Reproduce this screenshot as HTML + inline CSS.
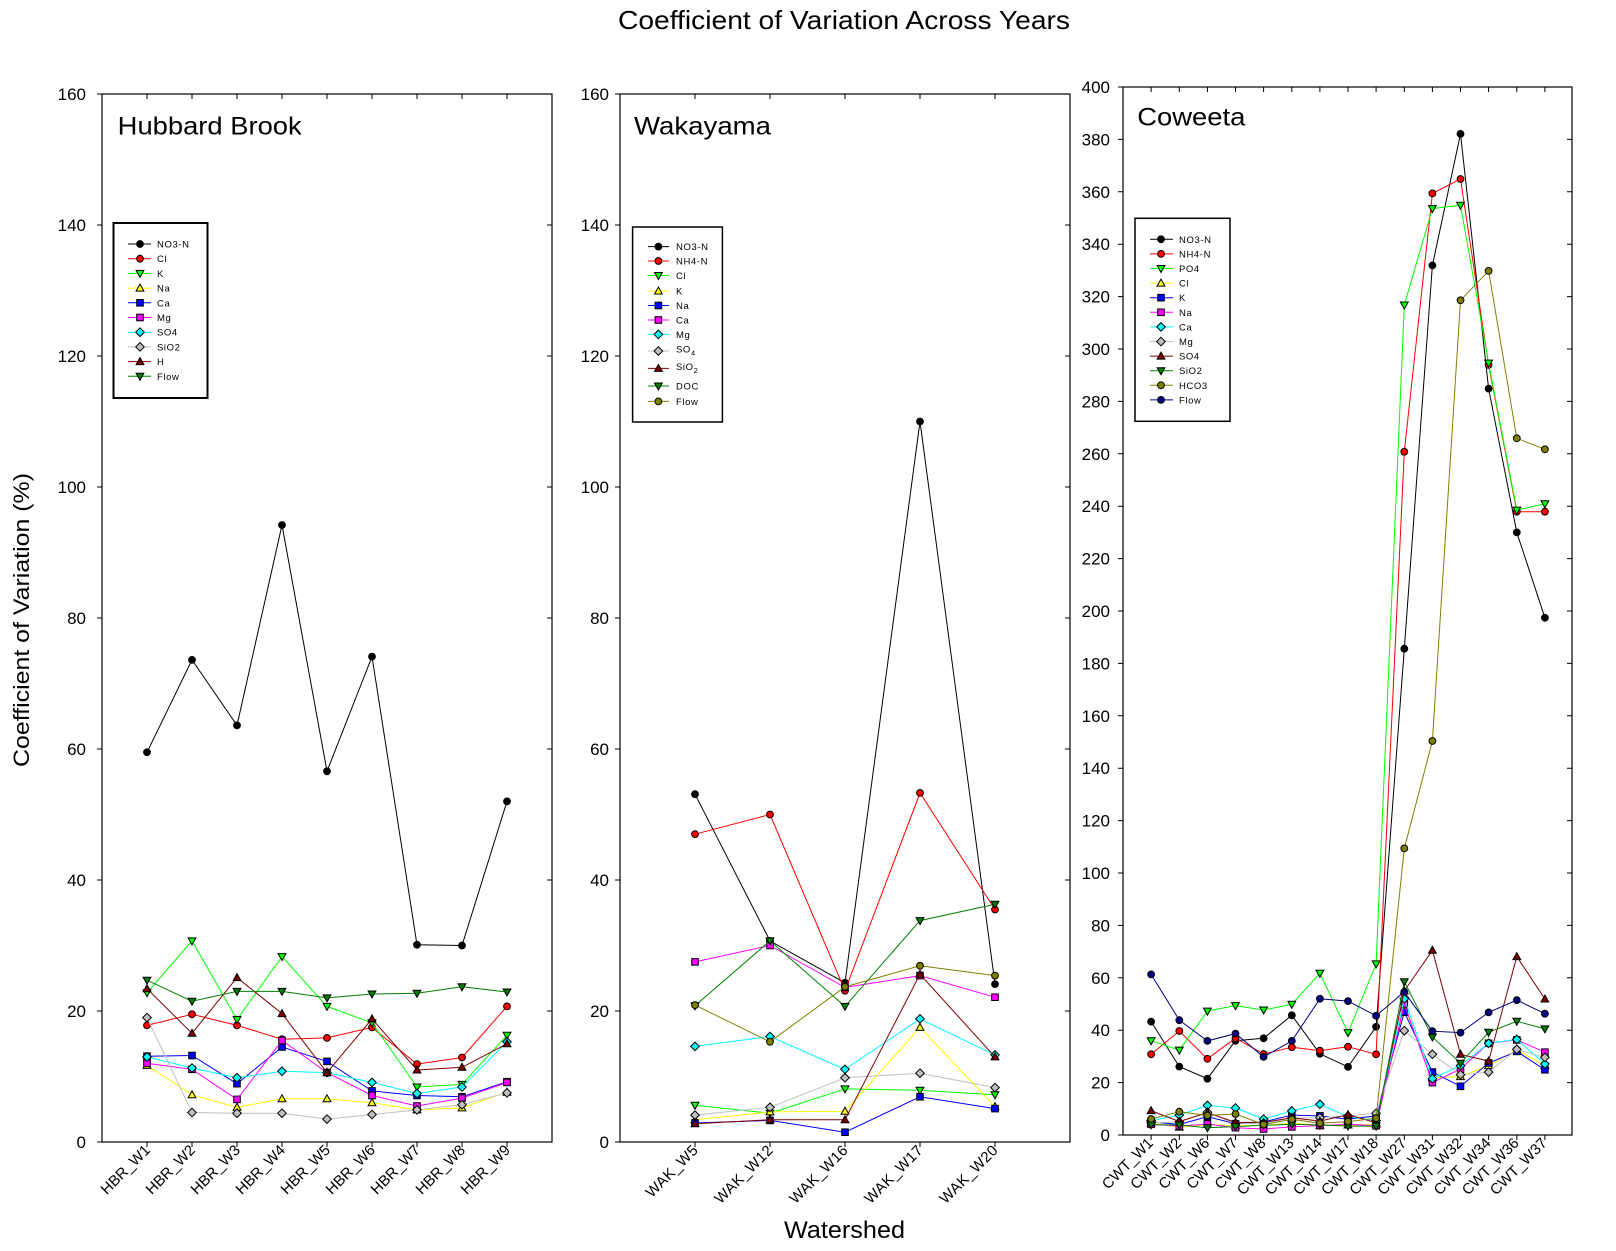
<!DOCTYPE html>
<html>
<head>
<meta charset="utf-8">
<style>
html,body{margin:0;padding:0;background:#fff;}
svg{display:block;}
text{font-family:"Liberation Sans",Arial,sans-serif;fill:#000;}
.tl{font-size:17px;}
.xl{font-size:15px;}
.lg{font-size:9.5px;letter-spacing:0.6px;}
</style>
</head>
<body>
<svg width="1616" height="1251" viewBox="0 0 1616 1251" xmlns="http://www.w3.org/2000/svg">
<defs>
<marker id="cK" markerUnits="userSpaceOnUse" markerWidth="12" markerHeight="12" viewBox="-6 -6 12 12" refX="0" refY="0" overflow="visible"><circle r="3.4" fill="#000" stroke="#000" stroke-width="1"/></marker>
<marker id="cR" markerUnits="userSpaceOnUse" markerWidth="12" markerHeight="12" viewBox="-6 -6 12 12" refX="0" refY="0" overflow="visible"><circle r="3.4" fill="#ff0000" stroke="#000" stroke-width="1"/></marker>
<marker id="cO" markerUnits="userSpaceOnUse" markerWidth="12" markerHeight="12" viewBox="-6 -6 12 12" refX="0" refY="0" overflow="visible"><circle r="3.4" fill="#808000" stroke="#000" stroke-width="1"/></marker>
<marker id="cN" markerUnits="userSpaceOnUse" markerWidth="12" markerHeight="12" viewBox="-6 -6 12 12" refX="0" refY="0" overflow="visible"><circle r="3.4" fill="#000080" stroke="#000" stroke-width="1"/></marker>
<marker id="dG" markerUnits="userSpaceOnUse" markerWidth="12" markerHeight="12" viewBox="-6 -6 12 12" refX="0" refY="0" overflow="visible"><polygon points="0,4 3.9,-3 -3.9,-3" fill="#00ff00" stroke="#000" stroke-width="1"/></marker>
<marker id="dD" markerUnits="userSpaceOnUse" markerWidth="12" markerHeight="12" viewBox="-6 -6 12 12" refX="0" refY="0" overflow="visible"><polygon points="0,4 3.9,-3 -3.9,-3" fill="#008000" stroke="#000" stroke-width="1"/></marker>
<marker id="uY" markerUnits="userSpaceOnUse" markerWidth="12" markerHeight="12" viewBox="-6 -6 12 12" refX="0" refY="0" overflow="visible"><polygon points="0,-4 3.9,3 -3.9,3" fill="#ffff00" stroke="#000" stroke-width="1"/></marker>
<marker id="uM" markerUnits="userSpaceOnUse" markerWidth="12" markerHeight="12" viewBox="-6 -6 12 12" refX="0" refY="0" overflow="visible"><polygon points="0,-4 3.9,3 -3.9,3" fill="#800000" stroke="#000" stroke-width="1"/></marker>
<marker id="sB" markerUnits="userSpaceOnUse" markerWidth="12" markerHeight="12" viewBox="-6 -6 12 12" refX="0" refY="0" overflow="visible"><rect x="-3.3" y="-3.3" width="6.6" height="6.6" fill="#0000ff" stroke="#000" stroke-width="1"/></marker>
<marker id="sP" markerUnits="userSpaceOnUse" markerWidth="12" markerHeight="12" viewBox="-6 -6 12 12" refX="0" refY="0" overflow="visible"><rect x="-3.3" y="-3.3" width="6.6" height="6.6" fill="#ff00ff" stroke="#000" stroke-width="1"/></marker>
<marker id="aC" markerUnits="userSpaceOnUse" markerWidth="12" markerHeight="12" viewBox="-6 -6 12 12" refX="0" refY="0" overflow="visible"><polygon points="0,-4.3 4.3,0 0,4.3 -4.3,0" fill="#00ffff" stroke="#000" stroke-width="1"/></marker>
<marker id="aS" markerUnits="userSpaceOnUse" markerWidth="12" markerHeight="12" viewBox="-6 -6 12 12" refX="0" refY="0" overflow="visible"><polygon points="0,-4.3 4.3,0 0,4.3 -4.3,0" fill="#c0c0c0" stroke="#000" stroke-width="1"/></marker>
</defs>

<!-- Title -->
<text x="618" y="29" font-size="26" textLength="452" lengthAdjust="spacingAndGlyphs">Coefficient of Variation Across Years</text>
<!-- Y label -->
<text transform="translate(29,620) rotate(-90)" text-anchor="middle" font-size="22" textLength="294" lengthAdjust="spacingAndGlyphs">Coefficient of Variation (%)</text>
<!-- X label -->
<text x="784" y="1238" font-size="24" textLength="121" lengthAdjust="spacingAndGlyphs">Watershed</text>

<!-- ================= PANEL 1: Hubbard Brook ================= -->
<rect x="102" y="94" width="450" height="1048" fill="none" stroke="#000" stroke-width="1.2"/>
<path d="M97 1142H102M97 1011H102M97 880H102M97 749H102M97 618H102M97 487H102M97 356H102M97 225H102M97 94H102
M547 1011H552M547 880H552M547 749H552M547 618H552M547 487H552M547 356H552M547 225H552
M147 94V99M192 94V99M237 94V99M282 94V99M327 94V99M372 94V99M417 94V99M462 94V99M507 94V99
M147 1142V1147M192 1142V1147M237 1142V1147M282 1142V1147M327 1142V1147M372 1142V1147M417 1142V1147M462 1142V1147M507 1142V1147" stroke="#000" stroke-width="1" fill="none"/>
<g class="tl" text-anchor="end">
<text x="86" y="1148">0</text><text x="86" y="1017">20</text><text x="86" y="886">40</text><text x="86" y="755">60</text><text x="86" y="624">80</text><text x="86" y="493">100</text><text x="86" y="362">120</text><text x="86" y="231">140</text><text x="86" y="100">160</text>
</g>
<g class="xl" text-anchor="end">
<text transform="translate(151,1151) rotate(-45)">HBR_W1</text>
<text transform="translate(196,1151) rotate(-45)">HBR_W2</text>
<text transform="translate(241,1151) rotate(-45)">HBR_W3</text>
<text transform="translate(286,1151) rotate(-45)">HBR_W4</text>
<text transform="translate(331,1151) rotate(-45)">HBR_W5</text>
<text transform="translate(376,1151) rotate(-45)">HBR_W6</text>
<text transform="translate(421,1151) rotate(-45)">HBR_W7</text>
<text transform="translate(466,1151) rotate(-45)">HBR_W8</text>
<text transform="translate(511,1151) rotate(-45)">HBR_W9</text>
</g>
<text x="117.7" y="134.3" font-size="25" textLength="184" lengthAdjust="spacingAndGlyphs">Hubbard Brook</text>

<g fill="none" stroke-width="1">
<polyline stroke="#000000" marker-start="url(#cK)" marker-mid="url(#cK)" marker-end="url(#cK)" points="147,752.3 192,659.9 237,725.4 282,525.0 327,771.3 372,656.6 417,944.8 462,945.5 507,801.4"/>
<polyline stroke="#ff0000" marker-start="url(#cR)" marker-mid="url(#cR)" marker-end="url(#cR)" points="147,1025.4 192,1014.3 237,1025.4 282,1039.2 327,1037.9 372,1027.4 417,1064.1 462,1057.5 507,1006.4"/>
<polyline stroke="#00ff00" marker-start="url(#dG)" marker-mid="url(#dG)" marker-end="url(#dG)" points="147,992.7 192,940.9 237,1019.5 282,956.6 327,1006.4 372,1022.8 417,1087.0 462,1084.4 507,1035.2"/>
<polyline stroke="#ffff00" marker-start="url(#uY)" marker-mid="url(#uY)" marker-end="url(#uY)" points="147,1065.4 192,1094.8 237,1107.3 282,1098.8 327,1098.8 372,1102.7 417,1109.9 462,1107.9 507,1092.2"/>
<polyline stroke="#0000ff" marker-start="url(#sB)" marker-mid="url(#sB)" marker-end="url(#sB)" points="147,1056.2 192,1055.5 237,1083.7 282,1047.0 327,1061.4 372,1090.9 417,1095.5 462,1096.8 507,1081.7"/>
<polyline stroke="#ff00ff" marker-start="url(#sP)" marker-mid="url(#sP)" marker-end="url(#sP)" points="147,1063.4 192,1069.3 237,1099.4 282,1040.5 327,1072.6 372,1095.5 417,1106.0 462,1098.1 507,1082.4"/>
<polyline stroke="#00ffff" marker-start="url(#aC)" marker-mid="url(#aC)" marker-end="url(#aC)" points="147,1056.9 192,1068.0 237,1077.8 282,1071.3 327,1072.6 372,1082.4 417,1093.5 462,1087.0 507,1041.8"/>
<polyline stroke="#c0c0c0" marker-start="url(#aS)" marker-mid="url(#aS)" marker-end="url(#aS)" points="147,1017.6 192,1112.5 237,1113.2 282,1113.2 327,1119.1 372,1114.5 417,1109.9 462,1104.7 507,1092.9"/>
<polyline stroke="#800000" marker-start="url(#uM)" marker-mid="url(#uM)" marker-end="url(#uM)" points="147,988.7 192,1033.3 237,977.6 282,1013.6 327,1072.6 372,1018.9 417,1070.0 462,1067.3 507,1043.8"/>
<polyline stroke="#008000" marker-start="url(#dD)" marker-mid="url(#dD)" marker-end="url(#dD)" points="147,980.2 192,1001.2 237,991.4 282,991.4 327,997.9 372,994.0 417,993.3 462,986.8 507,992.0"/>
</g>

<!-- Legend 1 -->
<rect x="113.5" y="223" width="94" height="175" fill="#fff" stroke="#000" stroke-width="2"/>
<g fill="none" stroke-width="1">
<path d="M128 244H140H151" stroke="#000000" marker-mid="url(#cK)"/>
<path d="M128 258.7H140H151" stroke="#ff0000" marker-mid="url(#cR)"/>
<path d="M128 273.4H140H151" stroke="#00ff00" marker-mid="url(#dG)"/>
<path d="M128 288.1H140H151" stroke="#ffff00" marker-mid="url(#uY)"/>
<path d="M128 302.8H140H151" stroke="#0000ff" marker-mid="url(#sB)"/>
<path d="M128 317.5H140H151" stroke="#ff00ff" marker-mid="url(#sP)"/>
<path d="M128 332.2H140H151" stroke="#00ffff" marker-mid="url(#aC)"/>
<path d="M128 346.9H140H151" stroke="#c0c0c0" marker-mid="url(#aS)"/>
<path d="M128 361.6H140H151" stroke="#800000" marker-mid="url(#uM)"/>
<path d="M128 376.3H140H151" stroke="#008000" marker-mid="url(#dD)"/>
</g>
<g class="lg">
<text x="157" y="247.5">NO3-N</text>
<text x="157" y="262.2">Cl</text>
<text x="157" y="276.9">K</text>
<text x="157" y="291.6">Na</text>
<text x="157" y="306.3">Ca</text>
<text x="157" y="321">Mg</text>
<text x="157" y="335.7">SO4</text>
<text x="157" y="350.4">SiO2</text>
<text x="157" y="365.1">H</text>
<text x="157" y="379.8">Flow</text>
</g>

<!-- ================= PANEL 2: Wakayama ================= -->
<rect x="620" y="94" width="450" height="1048" fill="none" stroke="#000" stroke-width="1.2"/>
<path d="M615 1142H620M615 1011H620M615 880H620M615 749H620M615 618H620M615 487H620M615 356H620M615 225H620M615 94H620
M1065 1011H1070M1065 880H1070M1065 749H1070M1065 618H1070M1065 487H1070M1065 356H1070M1065 225H1070
M695 94V99M770 94V99M845 94V99M920 94V99M995 94V99
M695 1142V1147M770 1142V1147M845 1142V1147M920 1142V1147M995 1142V1147" stroke="#000" stroke-width="1" fill="none"/>
<g class="tl" text-anchor="end">
<text x="609" y="1148">0</text><text x="609" y="1017">20</text><text x="609" y="886">40</text><text x="609" y="755">60</text><text x="609" y="624">80</text><text x="609" y="493">100</text><text x="609" y="362">120</text><text x="609" y="231">140</text><text x="609" y="100">160</text>
</g>
<g class="xl" text-anchor="end" letter-spacing="0.4">
<text transform="translate(699,1151) rotate(-45)">WAK_W5</text>
<text transform="translate(774,1151) rotate(-45)">WAK_W12</text>
<text transform="translate(849,1151) rotate(-45)">WAK_W16</text>
<text transform="translate(924,1151) rotate(-45)">WAK_W17</text>
<text transform="translate(999,1151) rotate(-45)">WAK_W20</text>
</g>
<text x="634" y="134.3" font-size="25" textLength="137" lengthAdjust="spacingAndGlyphs">Wakayama</text>

<g fill="none" stroke-width="1">
<polyline stroke="#000000" marker-start="url(#cK)" marker-mid="url(#cK)" marker-end="url(#cK)" points="695,794.2 770,940.9 845,982.8 920,421.5 995,984.1"/>
<polyline stroke="#ff0000" marker-start="url(#cR)" marker-mid="url(#cR)" marker-end="url(#cR)" points="695,834.2 770,814.5 845,990.7 920,792.9 995,909.5"/>
<polyline stroke="#00ff00" marker-start="url(#dG)" marker-mid="url(#dG)" marker-end="url(#dG)" points="695,1105.3 770,1113.2 845,1088.9 920,1090.3 995,1094.8"/>
<polyline stroke="#ffff00" marker-start="url(#uY)" marker-mid="url(#uY)" marker-end="url(#uY)" points="695,1119.7 770,1111.9 845,1111.2 920,1027.4 995,1106.6"/>
<polyline stroke="#0000ff" marker-start="url(#sB)" marker-mid="url(#sB)" marker-end="url(#sB)" points="695,1123.0 770,1120.4 845,1132.2 920,1096.8 995,1108.6"/>
<polyline stroke="#ff00ff" marker-start="url(#sP)" marker-mid="url(#sP)" marker-end="url(#sP)" points="695,961.9 770,945.5 845,987.4 920,975.6 995,997.2"/>
<polyline stroke="#00ffff" marker-start="url(#aC)" marker-mid="url(#aC)" marker-end="url(#aC)" points="695,1046.4 770,1036.5 845,1069.3 920,1018.9 995,1054.9"/>
<polyline stroke="#c0c0c0" marker-start="url(#aS)" marker-mid="url(#aS)" marker-end="url(#aS)" points="695,1115.1 770,1107.3 845,1077.8 920,1073.2 995,1087.6"/>
<polyline stroke="#800000" marker-start="url(#uM)" marker-mid="url(#uM)" marker-end="url(#uM)" points="695,1123.7 770,1119.7 845,1119.7 920,974.3 995,1056.9"/>
<polyline stroke="#008000" marker-start="url(#dD)" marker-mid="url(#dD)" marker-end="url(#dD)" points="695,1005.8 770,940.9 845,1006.4 920,920.6 995,904.2"/>
<polyline stroke="#808000" marker-start="url(#cO)" marker-mid="url(#cO)" marker-end="url(#cO)" points="695,1005.1 770,1041.8 845,986.8 920,965.8 995,975.6"/>
</g>

<!-- Legend 2 -->
<rect x="632.6" y="227" width="89.8" height="195" fill="#fff" stroke="#000" stroke-width="1.5"/>
<g fill="none" stroke-width="1">
<path d="M648 246.6H658.4H669" stroke="#000000" marker-mid="url(#cK)"/>
<path d="M648 261H658.4H669" stroke="#ff0000" marker-mid="url(#cR)"/>
<path d="M648 275.5H658.4H669" stroke="#00ff00" marker-mid="url(#dG)"/>
<path d="M648 291H658.4H669" stroke="#ffff00" marker-mid="url(#uY)"/>
<path d="M648 305.5H658.4H669" stroke="#0000ff" marker-mid="url(#sB)"/>
<path d="M648 320H658.4H669" stroke="#ff00ff" marker-mid="url(#sP)"/>
<path d="M648 334.4H658.4H669" stroke="#00ffff" marker-mid="url(#aC)"/>
<path d="M648 351H658.4H669" stroke="#c0c0c0" marker-mid="url(#aS)"/>
<path d="M648 368.4H658.4H669" stroke="#800000" marker-mid="url(#uM)"/>
<path d="M648 386H658.4H669" stroke="#008000" marker-mid="url(#dD)"/>
<path d="M648 401.4H658.4H669" stroke="#808000" marker-mid="url(#cO)"/>
</g>
<g class="lg">
<text x="676" y="250.1">NO3-N</text>
<text x="676" y="264.5">NH4-N</text>
<text x="676" y="279">Cl</text>
<text x="676" y="294.5">K</text>
<text x="676" y="309">Na</text>
<text x="676" y="323.5">Ca</text>
<text x="676" y="337.9">Mg</text>
<text x="676" y="352.5">SO<tspan font-size="7.5" dy="3">4</tspan></text>
<text x="676" y="369.9">SiO<tspan font-size="7.5" dy="3">2</tspan></text>
<text x="676" y="389.5">DOC</text>
<text x="676" y="404.9">Flow</text>
</g>

<!-- ================= PANEL 3: Coweeta ================= -->
<rect x="1123" y="87" width="449" height="1048" fill="none" stroke="#000" stroke-width="1.2"/>
<path d="M1118 1135H1123M1118 1082.6H1123M1118 1030.2H1123M1118 977.8H1123M1118 925.4H1123M1118 873H1123M1118 820.6H1123M1118 768.2H1123M1118 715.8H1123M1118 663.4H1123M1118 611H1123M1118 558.6H1123M1118 506.2H1123M1118 453.8H1123M1118 401.4H1123M1118 349H1123M1118 296.6H1123M1118 244.2H1123M1118 191.8H1123M1118 139.4H1123M1118 87H1123
M1567 1082.6H1572M1567 1030.2H1572M1567 977.8H1572M1567 925.4H1572M1567 873H1572M1567 820.6H1572M1567 768.2H1572M1567 715.8H1572M1567 663.4H1572M1567 611H1572M1567 558.6H1572M1567 506.2H1572M1567 453.8H1572M1567 401.4H1572M1567 349H1572M1567 296.6H1572M1567 244.2H1572M1567 191.8H1572M1567 139.4H1572
M1151.1 87V92M1179.3 87V92M1207.4 87V92M1235.5 87V92M1263.6 87V92M1291.8 87V92M1319.9 87V92M1348 87V92M1376.1 87V92M1404.3 87V92M1432.4 87V92M1460.5 87V92M1488.6 87V92M1516.8 87V92M1544.9 87V92
M1151.1 1135V1140M1179.3 1135V1140M1207.4 1135V1140M1235.5 1135V1140M1263.6 1135V1140M1291.8 1135V1140M1319.9 1135V1140M1348 1135V1140M1376.1 1135V1140M1404.3 1135V1140M1432.4 1135V1140M1460.5 1135V1140M1488.6 1135V1140M1516.8 1135V1140M1544.9 1135V1140" stroke="#000" stroke-width="1" fill="none"/>
<g class="tl" text-anchor="end">
<text x="1110" y="1141">0</text><text x="1110" y="1088.6">20</text><text x="1110" y="1036.2">40</text><text x="1110" y="983.8">60</text><text x="1110" y="931.4">80</text><text x="1110" y="879">100</text><text x="1110" y="826.6">120</text><text x="1110" y="774.2">140</text><text x="1110" y="721.8">160</text><text x="1110" y="669.4">180</text><text x="1110" y="617">200</text><text x="1110" y="564.6">220</text><text x="1110" y="512.2">240</text><text x="1110" y="459.8">260</text><text x="1110" y="407.4">280</text><text x="1110" y="355">300</text><text x="1110" y="302.6">320</text><text x="1110" y="250.2">340</text><text x="1110" y="197.8">360</text><text x="1110" y="145.4">380</text><text x="1110" y="93">400</text>
</g>
<g class="xl" text-anchor="end" font-size="14.5">
<text transform="translate(1154,1144) rotate(-45)">CWT_W1</text>
<text transform="translate(1182.3,1144) rotate(-45)">CWT_W2</text>
<text transform="translate(1210.4,1144) rotate(-45)">CWT_W6</text>
<text transform="translate(1238.5,1144) rotate(-45)">CWT_W7</text>
<text transform="translate(1266.6,1144) rotate(-45)">CWT_W8</text>
<text transform="translate(1294.8,1144) rotate(-45)">CWT_W13</text>
<text transform="translate(1322.9,1144) rotate(-45)">CWT_W14</text>
<text transform="translate(1351,1144) rotate(-45)">CWT_W17</text>
<text transform="translate(1379.1,1144) rotate(-45)">CWT_W18</text>
<text transform="translate(1407.3,1144) rotate(-45)">CWT_W27</text>
<text transform="translate(1435.4,1144) rotate(-45)">CWT_W31</text>
<text transform="translate(1463.5,1144) rotate(-45)">CWT_W32</text>
<text transform="translate(1491.6,1144) rotate(-45)">CWT_W34</text>
<text transform="translate(1519.8,1144) rotate(-45)">CWT_W36</text>
<text transform="translate(1547.9,1144) rotate(-45)">CWT_W37</text>
</g>
<text x="1137.3" y="125.7" font-size="25" textLength="108" lengthAdjust="spacingAndGlyphs">Coweeta</text>

<g fill="none" stroke-width="1">
<polyline stroke="#000000" marker-start="url(#cK)" marker-mid="url(#cK)" marker-end="url(#cK)" points="1151.1,1021.6 1179.3,1066.6 1207.4,1078.7 1235.5,1040.7 1263.6,1038.3 1291.8,1015.3 1319.9,1053.8 1348,1066.9 1376.1,1026.8 1404.3,648.7 1432.4,265.4 1460.5,133.9 1488.6,388.6 1516.8,532.4 1544.9,617.8"/>
<polyline stroke="#ff0000" marker-start="url(#cR)" marker-mid="url(#cR)" marker-end="url(#cR)" points="1151.1,1054.3 1179.3,1031.0 1207.4,1058.8 1235.5,1038.1 1263.6,1054.0 1291.8,1047.2 1319.9,1050.6 1348,1046.7 1376.1,1054.3 1404.3,451.7 1432.4,193.4 1460.5,179.0 1488.6,365.0 1516.8,511.7 1544.9,511.7"/>
<polyline stroke="#00ff00" marker-start="url(#dG)" marker-mid="url(#dG)" marker-end="url(#dG)" points="1151.1,1040.7 1179.3,1050.1 1207.4,1011.1 1235.5,1005.6 1263.6,1010.0 1291.8,1004.3 1319.9,973.3 1348,1032.6 1376.1,963.9 1404.3,305.0 1432.4,208.6 1460.5,205.2 1488.6,363.1 1516.8,510.1 1544.9,503.8"/>
<polyline stroke="#ffff00" marker-start="url(#uY)" marker-mid="url(#uY)" marker-end="url(#uY)" points="1151.1,1123.2 1179.3,1127.1 1207.4,1124.5 1235.5,1125.8 1263.6,1125.3 1291.8,1123.2 1319.9,1125.3 1348,1125.0 1376.1,1124.5 1404.3,1007.4 1432.4,1077.6 1460.5,1076.6 1488.6,1065.6 1516.8,1049.9 1544.9,1065.6"/>
<polyline stroke="#0000ff" marker-start="url(#sB)" marker-mid="url(#sB)" marker-end="url(#sB)" points="1151.1,1121.9 1179.3,1124.5 1207.4,1116.7 1235.5,1123.7 1263.6,1121.9 1291.8,1115.1 1319.9,1115.9 1348,1119.3 1376.1,1115.9 1404.3,1012.1 1432.4,1072.1 1460.5,1086.3 1488.6,1063.0 1516.8,1051.4 1544.9,1069.8"/>
<polyline stroke="#ff00ff" marker-start="url(#sP)" marker-mid="url(#sP)" marker-end="url(#sP)" points="1151.1,1124.3 1179.3,1126.1 1207.4,1124.0 1235.5,1127.7 1263.6,1129.0 1291.8,1126.9 1319.9,1125.6 1348,1124.3 1376.1,1125.8 1404.3,1004.0 1432.4,1082.6 1460.5,1069.0 1488.6,1043.3 1516.8,1039.9 1544.9,1052.2"/>
<polyline stroke="#00ffff" marker-start="url(#aC)" marker-mid="url(#aC)" marker-end="url(#aC)" points="1151.1,1120.6 1179.3,1115.1 1207.4,1105.4 1235.5,1108.0 1263.6,1119.0 1291.8,1110.9 1319.9,1104.3 1348,1116.7 1376.1,1120.6 1404.3,998.8 1432.4,1078.7 1460.5,1065.6 1488.6,1043.3 1516.8,1039.4 1544.9,1064.0"/>
<polyline stroke="#c0c0c0" marker-start="url(#aS)" marker-mid="url(#aS)" marker-end="url(#aS)" points="1151.1,1122.7 1179.3,1121.9 1207.4,1112.2 1235.5,1123.7 1263.6,1123.2 1291.8,1118.0 1319.9,1117.7 1348,1115.9 1376.1,1113.3 1404.3,1030.7 1432.4,1054.3 1460.5,1074.7 1488.6,1072.1 1516.8,1049.3 1544.9,1057.4"/>
<polyline stroke="#800000" marker-start="url(#uM)" marker-mid="url(#uM)" marker-end="url(#uM)" points="1151.1,1110.6 1179.3,1121.6 1207.4,1112.7 1235.5,1122.4 1263.6,1122.4 1291.8,1117.7 1319.9,1121.1 1348,1114.6 1376.1,1122.7 1404.3,990.9 1432.4,950.3 1460.5,1054.3 1488.6,1061.1 1516.8,956.6 1544.9,999.0"/>
<polyline stroke="#008000" marker-start="url(#dD)" marker-mid="url(#dD)" marker-end="url(#dD)" points="1151.1,1124.8 1179.3,1125.0 1207.4,1127.7 1235.5,1126.6 1263.6,1125.3 1291.8,1124.3 1319.9,1125.0 1348,1126.1 1376.1,1126.1 1404.3,981.7 1432.4,1037.0 1460.5,1063.2 1488.6,1032.3 1516.8,1021.3 1544.9,1028.9"/>
<polyline stroke="#808000" marker-start="url(#cO)" marker-mid="url(#cO)" marker-end="url(#cO)" points="1151.1,1119.0 1179.3,1111.7 1207.4,1115.4 1235.5,1114.0 1263.6,1124.5 1291.8,1119.3 1319.9,1123.2 1348,1121.6 1376.1,1118.2 1404.3,848.4 1432.4,741.0 1460.5,300.3 1488.6,270.9 1516.8,438.3 1544.9,449.3"/>
<polyline stroke="#000080" marker-start="url(#cN)" marker-mid="url(#cN)" marker-end="url(#cN)" points="1151.1,974.4 1179.3,1020.2 1207.4,1040.9 1235.5,1033.6 1263.6,1056.9 1291.8,1040.9 1319.9,998.8 1348,1001.1 1376.1,1015.8 1404.3,991.9 1432.4,1031.2 1460.5,1032.6 1488.6,1012.4 1516.8,1000.1 1544.9,1013.7"/>
</g>

<!-- Legend 3 -->
<rect x="1135" y="218.3" width="95" height="203" fill="#fff" stroke="#000" stroke-width="1.5"/>
<g fill="none" stroke-width="1">
<path d="M1150 239.3H1161H1173" stroke="#000000" marker-mid="url(#cK)"/>
<path d="M1150 253.9H1161H1173" stroke="#ff0000" marker-mid="url(#cR)"/>
<path d="M1150 268.5H1161H1173" stroke="#00ff00" marker-mid="url(#dG)"/>
<path d="M1150 283.1H1161H1173" stroke="#ffff00" marker-mid="url(#uY)"/>
<path d="M1150 297.7H1161H1173" stroke="#0000ff" marker-mid="url(#sB)"/>
<path d="M1150 312.3H1161H1173" stroke="#ff00ff" marker-mid="url(#sP)"/>
<path d="M1150 326.9H1161H1173" stroke="#00ffff" marker-mid="url(#aC)"/>
<path d="M1150 341.5H1161H1173" stroke="#c0c0c0" marker-mid="url(#aS)"/>
<path d="M1150 356.1H1161H1173" stroke="#800000" marker-mid="url(#uM)"/>
<path d="M1150 370.7H1161H1173" stroke="#008000" marker-mid="url(#dD)"/>
<path d="M1150 385.3H1161H1173" stroke="#808000" marker-mid="url(#cO)"/>
<path d="M1150 399.9H1161H1173" stroke="#000080" marker-mid="url(#cN)"/>
</g>
<g class="lg">
<text x="1179" y="242.8">NO3-N</text>
<text x="1179" y="257.4">NH4-N</text>
<text x="1179" y="272">PO4</text>
<text x="1179" y="286.6">Cl</text>
<text x="1179" y="301.2">K</text>
<text x="1179" y="315.8">Na</text>
<text x="1179" y="330.4">Ca</text>
<text x="1179" y="345">Mg</text>
<text x="1179" y="359.6">SO4</text>
<text x="1179" y="374.2">SiO2</text>
<text x="1179" y="388.8">HCO3</text>
<text x="1179" y="403.4">Flow</text>
</g>
</svg>
</body>
</html>
